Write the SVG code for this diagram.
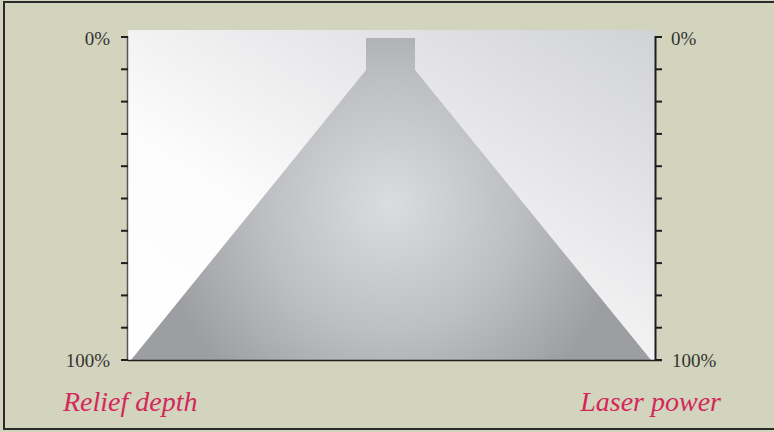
<svg xmlns="http://www.w3.org/2000/svg" width="774" height="432" viewBox="0 0 774 432">
<defs>
<style>
.num{font-family:"Liberation Serif","DejaVu Serif",serif;font-size:19px;fill:#333}
.lab{font-family:"Liberation Serif","DejaVu Serif",serif;font-style:italic;font-size:28px;fill:#d3285a}
.tick{stroke:#1e1e1e;stroke-width:2}
</style>
<linearGradient id="bg" x1="0" y1="1" x2="1" y2="0">
<stop offset="0" stop-color="#ffffff"/>
<stop offset="0.35" stop-color="#fcfcfc"/>
<stop offset="1" stop-color="#d1d2d6"/>
</linearGradient>
<radialGradient id="cone" gradientUnits="userSpaceOnUse" cx="390" cy="205" r="235">
<stop offset="0" stop-color="#dbdcde"/>
<stop offset="0.55" stop-color="#bdbec1"/>
<stop offset="1" stop-color="#9d9ea1"/>
</radialGradient>
</defs>
<rect x="0" y="0" width="774" height="432" fill="#d3d4be"/>
<rect x="4" y="2" width="772" height="427" fill="none" stroke="#2a2a2a" stroke-width="2"/>
<g id="plot">
<rect x="128" y="30" width="527" height="330" fill="url(#bg)"/>
<path d="M366 38 H415 V70 L651 360 H131 L366 70 Z" fill="url(#cone)"/>
</g>
<g id="left-axis">
<line x1="127.5" y1="36" x2="127.5" y2="360" stroke="#555" stroke-width="1.5"/>
<g class="tick">
<line x1="121" y1="37" x2="128" y2="37"/>
<line x1="121" y1="69.3" x2="128" y2="69.3"/>
<line x1="121" y1="101.6" x2="128" y2="101.6"/>
<line x1="121" y1="133.9" x2="128" y2="133.9"/>
<line x1="121" y1="166.2" x2="128" y2="166.2"/>
<line x1="121" y1="198.5" x2="128" y2="198.5"/>
<line x1="121" y1="230.8" x2="128" y2="230.8"/>
<line x1="121" y1="263.1" x2="128" y2="263.1"/>
<line x1="121" y1="295.4" x2="128" y2="295.4"/>
<line x1="121" y1="327.7" x2="128" y2="327.7"/>
<line x1="121" y1="360" x2="128" y2="360"/>
</g>
<text class="num" x="110" y="45" text-anchor="end">0%</text>
<text class="num" x="110" y="366.5" text-anchor="end">100%</text>
</g>
<g id="right-axis">
<line x1="655.5" y1="36" x2="655.5" y2="361" stroke="#1e1e1e" stroke-width="2"/>
<g class="tick">
<line x1="655" y1="37" x2="662" y2="37"/>
<line x1="655" y1="69.3" x2="662" y2="69.3"/>
<line x1="655" y1="101.6" x2="662" y2="101.6"/>
<line x1="655" y1="133.9" x2="662" y2="133.9"/>
<line x1="655" y1="166.2" x2="662" y2="166.2"/>
<line x1="655" y1="198.5" x2="662" y2="198.5"/>
<line x1="655" y1="230.8" x2="662" y2="230.8"/>
<line x1="655" y1="263.1" x2="662" y2="263.1"/>
<line x1="655" y1="295.4" x2="662" y2="295.4"/>
<line x1="655" y1="327.7" x2="662" y2="327.7"/>
<line x1="655" y1="360" x2="662" y2="360"/>
</g>
<text class="num" x="671" y="45">0%</text>
<text class="num" x="672" y="366.5">100%</text>
</g>
<g id="baseline">
<line x1="128" y1="360.5" x2="662" y2="360.5" stroke="#1e1e1e" stroke-width="1.5"/>
</g>
<g id="labels">
<text class="lab" x="63" y="411">Relief depth</text>
<text class="lab" x="721" y="411" text-anchor="end">Laser power</text>
</g>
</svg>
